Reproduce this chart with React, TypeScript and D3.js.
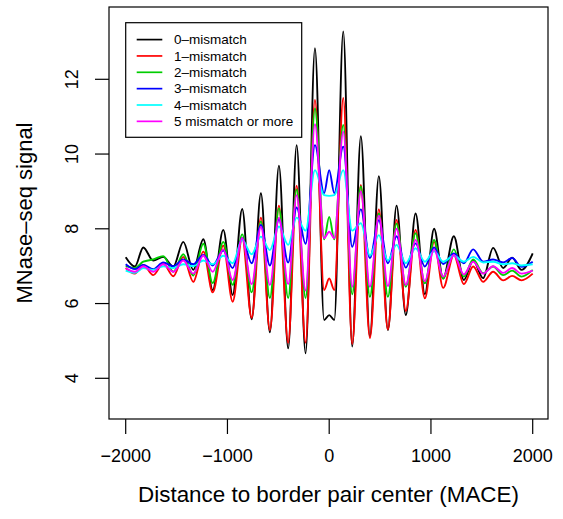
import React from 'react';
import * as d3 from 'd3';

// distance to border pair center (bp), read at the peaks and troughs
const positions = [
  -2000, -1910, -1827, -1730, -1631, -1532, -1434, -1336, -1237, -1145, -1041,
  -949, -855, -762, -671, -583, -494, -403, -320, -232, -140, -50, 0, 50,
  138, 226, 311, 400, 488, 577, 662, 753, 849, 940, 1031, 1120, 1225, 1323,
  1415, 1513, 1611, 1710, 1798, 1890, 2000,
];

const mismatch0 = [
  7.24, 6.99, 7.5, 7.15, 7.25, 6.99, 7.65, 6.9, 7.72, 6.36, 7.97,
  6.23, 8.53, 5.58, 8.95, 5.23, 9.69, 4.8, 10.24, 4.67, 12.83, 5.56, 5.69, 5.56,
  13.28, 4.85, 10.48, 5.12, 9.41, 5.29, 8.62, 5.69, 8.41, 6.25, 8.0, 6.67, 7.8, 6.63,
  7.15, 6.68, 7.49, 6.95, 7.23, 6.9, 7.34,
];
const mismatch1 = [
  6.95, 6.8, 7.03, 6.76, 7.07, 6.73, 7.25, 6.58, 7.39, 6.3, 7.55,
  6.05, 7.75, 5.62, 8.3, 5.29, 8.62, 4.95, 9.15, 4.95, 11.45, 6.36, 6.67, 6.36,
  11.5, 4.92, 9.17, 5.08, 8.52, 5.31, 8.24, 5.8, 7.97, 6.14, 7.65, 6.42, 7.3, 6.52,
  6.99, 6.58, 6.85, 6.62, 6.74, 6.62, 6.8,
];
const mismatch2 = [
  7.0, 6.95, 7.12, 7.18, 7.27, 6.85, 7.32, 6.75, 7.6, 6.55, 7.65,
  6.5, 7.85, 6.3, 8.2, 6.15, 8.55, 6.15, 9.05, 6.15, 11.22, 7.72, 8.32, 7.72,
  10.78, 6.25, 9.13, 6.18, 8.41, 6.18, 8.14, 6.45, 7.88, 6.54, 7.7, 6.67, 7.45, 6.72,
  7.18, 6.81, 6.99, 6.76, 6.88, 6.72, 6.9,
];
const mismatch3 = [
  7.05, 6.92, 7.03, 6.92, 7.1, 7.0, 7.18, 7.05, 7.3, 7.02, 7.42,
  6.95, 7.75, 7.08, 8.1, 7.02, 8.25, 7.1, 8.57, 7.6, 10.24, 8.95, 9.57, 8.95,
  10.2, 7.52, 8.52, 7.22, 8.23, 7.08, 7.8, 6.96, 7.61, 6.99, 7.5, 7.06, 7.34, 7.08,
  7.45, 7.12, 7.18, 7.1, 7.22, 6.98, 7.12,
];
const mismatch4 = [
  6.88, 6.82, 6.95, 6.9, 7.0, 6.95, 7.05, 7.0, 7.15, 7.05, 7.28,
  7.08, 7.7, 7.32, 7.79, 7.43, 8.06, 7.57, 8.3, 7.95, 9.57, 8.9, 8.88, 8.9,
  9.57, 7.95, 8.15, 7.28, 7.83, 7.15, 7.57, 7.08, 7.48, 7.12, 7.4, 7.12, 7.28, 7.12,
  7.25, 7.1, 7.12, 7.05, 7.08, 7.02, 7.05,
];
const mismatch5 = [
  6.95, 6.85, 7.0, 6.85, 7.05, 6.85, 7.15, 6.8, 7.28, 6.85, 7.45,
  6.63, 7.75, 6.52, 8.05, 6.5, 8.3, 6.52, 8.9, 6.35, 10.8, 7.75, 7.92, 7.75,
  10.6, 6.45, 9.0, 6.45, 8.35, 6.47, 8.0, 6.5, 7.7, 6.6, 7.45, 6.72, 7.3, 6.78,
  7.12, 6.8, 7.0, 6.82, 6.95, 6.8, 6.88,
];

const seriesLabels = [
  '0–mismatch', '1–mismatch', '2–mismatch', '3–mismatch', '4–mismatch', '5 mismatch or more',
];
const seriesColors = ['#000000', '#ff0000', '#00cd00', '#0000ff', '#00ffff', '#ff00ff'];
const xTicks = [-2000, -1000, 0, 1000, 2000];
const yTicks = [4, 6, 8, 10, 12];

const FONT = '"Liberation Sans", Arial, Helvetica, sans-serif';
const fmt = (v: number) => (v < 0 ? '\u2212' + Math.abs(v) : String(v));

export default function App() {
  const width = 563;
  const height = 519;
  const box = { left: 109, right: 548, top: 7, bottom: 419 };

  const x = d3.scaleLinear().domain([-2000, 2000]).range([125.7, 532.7]);
  const y = d3.scaleLinear().domain([4, 12]).range([378.3, 79.3]);

  const line = d3.line<[number, number]>()
    .x(d => x(d[0]))
    .y(d => y(d[1]))
    .curve(d3.curveMonotoneX);

  const series = [mismatch0, mismatch1, mismatch2, mismatch3, mismatch4, mismatch5];

  // legend layout
  const lg = { x: 125.7, y: 22.7, w: 176, h: 114.6, row0: 39.6, step: 16.35 };

  return (
    <svg width={width} height={height} style={{ position: 'absolute', left: 0, top: 0, background: '#fff' }}
      fontFamily={FONT}>
      <rect x={0} y={0} width={width} height={height} fill="#fff" />

      {series.map((vals, i) => (
        <path key={i}
          d={line(positions.map((p, j) => [p, vals[j]] as [number, number])) || ''}
          fill="none" stroke={seriesColors[i]} strokeWidth={1.9} strokeLinejoin="round" />
      ))}

      {/* plot frame */}
      <rect x={box.left} y={box.top} width={box.right - box.left} height={box.bottom - box.top}
        fill="none" stroke="#000" strokeWidth={1.2} />

      {/* x axis */}
      {xTicks.map(t => (
        <g key={t}>
          <line x1={x(t)} x2={x(t)} y1={box.bottom} y2={box.bottom + 15} stroke="#000" strokeWidth={1.2} />
          <text x={x(t)} y={461.5} textAnchor="middle" fontSize={18}>{fmt(t)}</text>
        </g>
      ))}
      <text x={(box.left + box.right) / 2} y={501.5} textAnchor="middle" fontSize={22.4}>
        Distance to border pair center (MACE)
      </text>

      {/* y axis */}
      {yTicks.map(t => (
        <g key={t}>
          <line x1={box.left - 14} x2={box.left} y1={y(t)} y2={y(t)} stroke="#000" strokeWidth={1.2} />
          <text transform={`translate(78,${y(t)}) rotate(-90)`} textAnchor="middle" fontSize={18}>{fmt(t)}</text>
        </g>
      ))}
      <text transform={`translate(32,213) rotate(-90)`} textAnchor="middle" fontSize={22}>
        MNase–seq signal
      </text>

      {/* legend */}
      <rect x={lg.x} y={lg.y} width={lg.w} height={lg.h} fill="#fff" stroke="#000" strokeWidth={1.2} />
      {seriesLabels.map((label, i) => {
        const ry = lg.row0 + i * lg.step;
        return (
          <g key={label}>
            <line x1={136.7} x2={162.3} y1={ry} y2={ry} stroke={seriesColors[i]} strokeWidth={1.7} />
            <text x={174} y={ry + 4.8} fontSize={13.5}>{label}</text>
          </g>
        );
      })}
    </svg>
  );
}
